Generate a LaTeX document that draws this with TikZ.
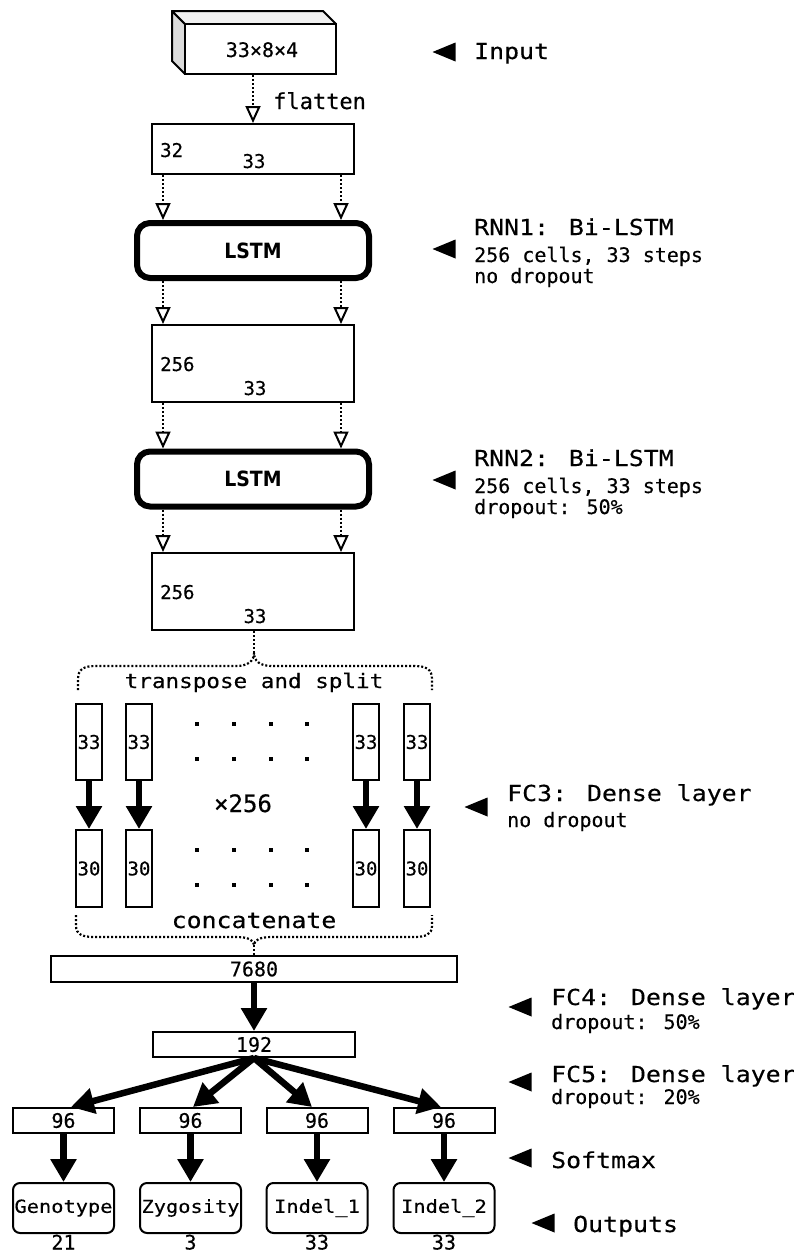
\documentclass[tikz,border=0pt]{standalone}
\usepackage{fontspec}
\setmainfont{DejaVu Sans Mono}
\newfontfamily\mono[FakeBold=0.35]{DejaVu Sans Mono}
\newfontfamily\monow[FakeStretch=1.13,FakeBold=0.35]{DejaVu Sans Mono}
\newfontfamily\lstmf[FakeStretch=0.9]{DejaVu Sans}
\usetikzlibrary{arrows.meta}
\begin{document}
\begin{tikzpicture}[x=1pt,y=-1pt,
  box/.style={draw, line width=2pt, inner sep=0pt, fill=white, font=\mono\fontsize{20}{24}\selectfont},
  lstmbox/.style={draw, line width=6pt, rounded corners=13pt, inner sep=0pt, fill=white,
     minimum width=232pt, minimum height=55pt, font=\lstmf\bfseries\fontsize{21}{24}\selectfont},
  outbox/.style={draw, line width=2pt, rounded corners=7pt, inner sep=0pt,
     minimum width=101pt, minimum height=50pt, font=\monow\fontsize{18}{22}\selectfont},
  colbox/.style={draw, line width=2pt, inner sep=0pt, minimum width=26pt, minimum height=76pt,
     font=\mono\fontsize{19}{22}\selectfont},
  dotline/.style={line width=2.2pt, dash pattern=on 2pt off 2pt},
  dotarr/.style={dotline, -{Triangle[open,length=17pt,width=15pt,line width=2pt]}},
  thickarr/.style={line width=6.5pt, -{Triangle[length=23pt,width=25pt]}},
  num/.style={inner sep=0pt, font=\mono\fontsize{19}{22}\selectfont},
  head/.style={inner sep=0pt, anchor=base west, font=\monow\fontsize{22}{26}\selectfont},
  sub/.style={inner sep=0pt, anchor=base west, font=\mono\fontsize{20}{24}\selectfont},
  lefttri/.pic={\fill (-11.5,0) -- (11.5,-9.5) -- (11.5,9.5) -- cycle;}
]
\useasboundingbox (0,0) rectangle (794,1253);

% ---- input cube
\filldraw[fill=gray!28, line width=2pt, line join=round] (185,24) -- (172,11) -- (172,61) -- (185,74) -- cycle;
\filldraw[fill=gray!12, line width=2pt, line join=round] (185,24) -- (172,11) -- (323,11) -- (336,24) -- cycle;
\node[box, minimum width=151pt, minimum height=50pt] (cube) at (260.5,49) {};
\node[num, font=\mono\fontsize{20}{24}\selectfont, anchor=base] (cubet) at (262,57) {33×8×4};

% ---- box1
\node[box, minimum width=202pt, minimum height=50pt] (box1) at (253,149) {};
\node[num, anchor=base west] (b1a) at (160,157) {32};
\node[num, anchor=base] (b1b) at (254,168) {33};
\draw[dotarr] (cube.south -| box1.north) -- (box1.north);
\node[inner sep=0pt, anchor=base west, font=\mono\fontsize{22}{26}\selectfont] (flat) at (273,109) {flatten};

% ---- LSTM1
\node[lstmbox] (lstm1) at (253,250.5) {LSTM};
\draw[dotarr] ([xshift=-90pt]box1.south) -- ([xshift=-90pt]lstm1.north);
\draw[dotarr] ([xshift=88pt]box1.south) -- ([xshift=88pt]lstm1.north);

% ---- box2
\node[box, minimum width=202pt, minimum height=77pt] (box2) at (253,363.5) {};
\node[num, anchor=base west] (b2a) at (160,371) {256};
\node[num, anchor=base] (b2b) at (255,395) {33};
\draw[dotarr] ([xshift=-90pt]lstm1.south) -- ([xshift=-90pt]box2.north);
\draw[dotarr] ([xshift=88pt]lstm1.south) -- ([xshift=88pt]box2.north);

% ---- LSTM2
\node[lstmbox] (lstm2) at (253,479) {LSTM};
\draw[dotarr] ([xshift=-90pt]box2.south) -- ([xshift=-90pt]lstm2.north);
\draw[dotarr] ([xshift=88pt]box2.south) -- ([xshift=88pt]lstm2.north);

% ---- box3
\node[box, minimum width=202pt, minimum height=77pt] (box3) at (253,591.5) {};
\node[num, anchor=base west] (b3a) at (160,599) {256};
\node[num, anchor=base] (b3b) at (255,623) {33};
\draw[dotarr] ([xshift=-90pt]lstm2.south) -- ([xshift=-90pt]box3.north);
\draw[dotarr] ([xshift=88pt]lstm2.south) -- ([xshift=88pt]box3.north);

% ---- split brace
\coordinate (tip1) at (254,653);
\draw[dotline] (box3.south -| tip1) -- (tip1);
\draw[dotline] (78,690) -- (78,679) .. controls (78,669) and (84,666) .. (96,666) -- (236,666)
   .. controls (248,666) and (254,661) .. (tip1)
   .. controls (254,661) and (260,666) .. (272,666) -- (414,666)
   .. controls (426,666) and (432,669) .. (432,679) -- (432,690);
\node[inner sep=0pt, anchor=base, font=\monow\fontsize{20}{24}\selectfont] (tsplit) at (254,688) {transpose and split};

% ---- columns
\foreach \n/\x in {1/89,2/139,3/366,4/417}{
  \node[colbox] (cu\n) at (\x,742) {33};
  \node[colbox, minimum height=77pt] (cl\n) at (\x,868.5) {30};
  \draw[thickarr] (cu\n.south) -- (cl\n.north);
}
\foreach \y in {724,759,850,885}{
  \foreach \x in {197,234,271,307}{
    \fill (\x-2.3,\y-2.3) rectangle (\x+2.3,\y+2.3);
  }
}
\node[inner sep=0pt, anchor=base, font=\mono\fontsize{24}{28}\selectfont] (times) at (243,812) {×256};

% ---- concatenate brace
\coordinate (tip2) at (254,945);
\draw[dotline] (76,915) -- (76,926) .. controls (76,934) and (82,937) .. (94,937) -- (236,937)
   .. controls (248,937) and (254,940) .. (tip2)
   .. controls (254,940) and (260,937) .. (272,937) -- (414,937)
   .. controls (426,937) and (432,934) .. (432,926) -- (432,915);
\node[inner sep=0pt, anchor=base, font=\monow\fontsize{22}{26}\selectfont] (concat) at (254,928) {concatenate};

% ---- dense layers
\node[box, minimum width=406pt, minimum height=26pt] (d7680) at (254,969) {7680};
\draw[dotline] (tip2) -- (d7680.north);
\node[box, minimum width=202pt, minimum height=25pt] (d192) at (254,1044.5) {192};
\draw[thickarr] (d7680.south) -- (d192.north);

\node[box, minimum width=101pt, minimum height=25pt] (h1) at (63.5,1120.5) {96};
\node[box, minimum width=101pt, minimum height=25pt] (h2) at (190.5,1120.5) {96};
\node[box, minimum width=101pt, minimum height=25pt] (h3) at (317,1120.5) {96};
\node[box, minimum width=101pt, minimum height=25pt] (h4) at (444,1120.5) {96};
\draw[thickarr] (d192.south) -- ([xshift=7.5pt]h1.north);
\draw[thickarr] (d192.south) -- ([xshift=2.5pt]h2.north);
\draw[thickarr] (d192.south) -- ([xshift=-5pt]h3.north);
\draw[thickarr] (d192.south) -- ([xshift=-3pt]h4.north);

\node[outbox] (o1) at (63.5,1208) {Genotype};
\node[outbox] (o2) at (190.5,1208) {Zygosity};
\node[outbox] (o3) at (317,1208) {Indel\_1};
\node[outbox] (o4) at (444,1208) {Indel\_2};
\foreach \n in {1,2,3,4}{ \draw[thickarr] (h\n.south) -- (o\n.north); }
\node[inner sep=0pt, anchor=base, font=\mono\fontsize{20}{24}\selectfont] (n1) at (63.5,1249.5) {21};
\node[inner sep=0pt, anchor=base, font=\mono\fontsize{20}{24}\selectfont] (n2) at (190.5,1249.5) {3};
\node[inner sep=0pt, anchor=base, font=\mono\fontsize{20}{24}\selectfont] (n3) at (317,1249.5) {33};
\node[inner sep=0pt, anchor=base, font=\mono\fontsize{20}{24}\selectfont] (n4) at (444,1249.5) {33};

% ---- right labels
\pic at (444,52) {lefttri};
\node[head] (lin) at (474,59) {Input};

\pic at (444,249) {lefttri};
\node[head] (lr1a) at (474,235) {RNN1: Bi-LSTM};
\node[sub] (lr1b) at (474,262) {256 cells, 33 steps};
\node[sub] (lr1c) at (474,283) {no dropout};

\pic at (444,480) {lefttri};
\node[head] (lr2a) at (474,466) {RNN2: Bi-LSTM};
\node[sub] (lr2b) at (474,493) {256 cells, 33 steps};
\node[sub] (lr2c) at (474,514) {dropout: 50\%};

\pic at (476,807) {lefttri};
\node[head] (lf3a) at (507,801) {FC3: Dense layer};
\node[sub] (lf3b) at (507,827) {no dropout};

\pic at (520,1007) {lefttri};
\node[head] (lf4a) at (551,1005) {FC4: Dense layer};
\node[sub] (lf4b) at (551,1029) {dropout: 50\%};

\pic at (520,1082) {lefttri};
\node[head] (lf5a) at (551,1082) {FC5: Dense layer};
\node[sub] (lf5b) at (551,1104) {dropout: 20\%};

\pic at (520,1158) {lefttri};
\node[head] (lsm) at (551,1168) {Softmax};

\pic at (543,1223) {lefttri};
\node[head] (lout) at (573,1232) {Outputs};
\end{tikzpicture}
\end{document}
